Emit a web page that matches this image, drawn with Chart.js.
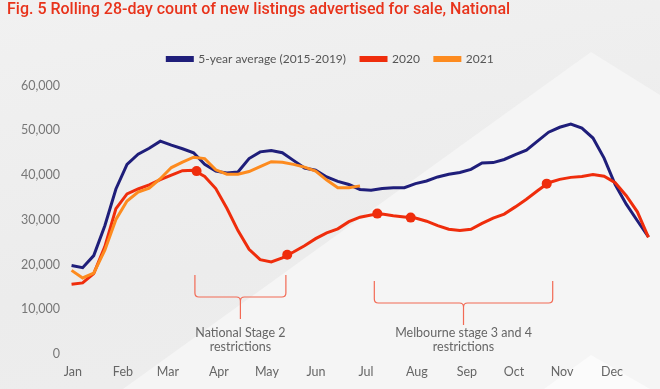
<!DOCTYPE html>
<html>
<head>
<meta charset="utf-8">
<script src="https://cdn.jsdelivr.net/npm/chart.js@4.4.1/dist/chart.umd.min.js"></script>
<style>
    html, body { margin: 0; padding: 0; }
    body {
        width: 660px;
        height: 389px;
        background: linear-gradient(170deg, #f1f1f1 0%, #ececec 60%, #eeeeee 100%);
        overflow: hidden;
    }
    #wrap { position: relative; width: 660px; height: 389px; }
    .bg { position: absolute; left: 0; top: 0; width: 660px; height: 389px; }
    #bg1 { background: #f5f5f5; clip-path: polygon(591px 52px, 660px 95px, 660px 389px, 123px 389px); }
    #bg2 { background: #fbfbfb; clip-path: polygon(591px 355px, 650px 389px, 544px 389px); }
    canvas { position: absolute; left: 0; top: 0; }
</style>
</head>
<body>
<div id="wrap">
    <div class="bg" id="bg1"></div>
    <div class="bg" id="bg2"></div>
    <canvas id="listingsChart" width="660" height="389"></canvas>
</div>
<script>
// Rolling 28-day new listings, one value per week (week 0 = early Jan)
const avg5yr = [
    19800, 19300, 22000, 28700, 36900, 42400, 44700, 46000, 47600, 46700,
    45900, 45000, 42400, 40900, 40500, 40700, 43700, 45200, 45500, 45000,
    43300, 41600, 41100, 39600, 38600, 37900, 36800, 36600, 37000, 37200,
    37200, 38100, 38700, 39600, 40200, 40600, 41300, 42700, 42800, 43500,
    44600, 45600, 47600, 49600, 50700, 51400, 50500, 48300, 43800, 37900,
    33500, 29800, 26200
];
const y2020 = [
    15600, 15900, 18000, 24000, 32500, 35800, 36900, 37800, 39000, 40000,
    41000, 41100, 39700, 37000, 32600, 27600, 23400, 21100, 20600, 21500,
    22800, 24200, 25800, 27100, 28000, 29600, 30600, 31100, 31300, 30900,
    30650, 30400, 29700, 28700, 27900, 27600, 27900, 29200, 30400, 31300,
    32900, 34600, 36500, 38300, 39050, 39500, 39700, 40150, 39750, 38300,
    35400, 31800, 26100
];
const y2021 = [
    18700, 17000, 18100, 23200, 30100, 34200, 36200, 37100, 39200, 41700,
    42900, 44000, 43700, 41200, 40200, 40200, 40800, 41900, 43000, 42900,
    42400, 41800, 40900, 38900, 37200, 37200, 37600
];

// highlighted 2020 points (week, value)
const markerWeeks = [11.27, 19.44, 27.56, 30.57, 42.83];
const markerValues = [40900, 22200, 31400, 30500, 38100];

// month tick positions in weeks
const monthLabels = ['Jan', 'Feb', 'Mar', 'Apr', 'May', 'Jun', 'Jul', 'Aug', 'Sep', 'Oct', 'Nov', 'Dec'];
const monthPos = [0.12, 4.63, 8.68, 13.28, 17.61, 22.03, 26.54, 31.13, 35.64, 39.88, 44.21, 48.72];

const yTicks = [0, 10000, 20000, 30000, 40000, 50000, 60000];

// restriction brackets (week span + caption)
const brackets = [
    { from: 11.12, to: 19.32, drop: 0, text: ['National Stage 2', 'restrictions'] },
    { from: 27.29, to: 43.37, drop: 6, text: ['Melbourne stage 3 and 4', 'restrictions'] }
];

const toPoints = arr => arr.map((v, i) => ({ x: i, y: v }));

const COL_BLUE = '#1f1e7a';
const COL_RED = '#ef2d0c';
const COL_ORANGE = '#fd8b1f';
const FONT = 'Lato, "Noto Sans", sans-serif';

const bracketPlugin = {
    id: 'brackets',
    afterDatasetsDraw(chart) {
        const { ctx, scales: { x }, chartArea } = chart;
        const base = chartArea.bottom;
        ctx.save();
        ctx.strokeStyle = '#f26a55';
        ctx.lineWidth = 1.2;
        brackets.forEach(b => {
            const x1 = x.getPixelForValue(b.from);
            const x2 = x.getPixelForValue(b.to);
            const cx = (x1 + x2) / 2;
            const top = base - 79 + b.drop;
            const mid = base - 57 + b.drop;
            const tip = base - 35 + b.drop;
            const r = 4;
            ctx.beginPath();
            ctx.moveTo(x1, top);
            ctx.lineTo(x1, mid - r);
            ctx.quadraticCurveTo(x1, mid, x1 + r, mid);
            ctx.lineTo(cx - r, mid);
            ctx.quadraticCurveTo(cx, mid, cx, mid + r);
            ctx.lineTo(cx, tip);
            ctx.moveTo(x2, top);
            ctx.lineTo(x2, mid - r);
            ctx.quadraticCurveTo(x2, mid, x2 - r, mid);
            ctx.lineTo(cx + r, mid);
            ctx.quadraticCurveTo(cx, mid, cx, mid + r);
            ctx.stroke();

            ctx.fillStyle = '#666666';
            ctx.font = '12.5px ' + FONT;
            ctx.textAlign = 'center';
            ctx.textBaseline = 'middle';
            ctx.fillText(b.text[0], cx, base - 21);
            ctx.fillText(b.text[1], cx, base - 7);
        });
        ctx.restore();
    }
};

const ctx = document.getElementById('listingsChart').getContext('2d');
new Chart(ctx, {
    type: 'line',
    data: {
        datasets: [
            {
                label: 'markers',
                data: markerWeeks.map((w, i) => ({ x: w, y: markerValues[i] })),
                showLine: false,
                pointRadius: 5,
                pointBackgroundColor: COL_RED,
                pointBorderWidth: 0,
                order: 0
            },
            {
                label: '5-year average (2015-2019)',
                data: toPoints(avg5yr),
                borderColor: COL_BLUE,
                backgroundColor: COL_BLUE,
                borderWidth: 3,
                pointRadius: 0,
                tension: 0,
                order: 3
            },
            {
                label: '2020',
                data: toPoints(y2020),
                borderColor: COL_RED,
                backgroundColor: COL_RED,
                borderWidth: 3,
                pointRadius: 0,
                tension: 0,
                order: 2
            },
            {
                label: '2021',
                data: toPoints(y2021),
                borderColor: COL_ORANGE,
                backgroundColor: COL_ORANGE,
                borderWidth: 3,
                pointRadius: 0,
                tension: 0,
                order: 1
            }
        ]
    },
    options: {
        responsive: false,
        animation: false,
        layout: { padding: { left: 7, right: 6, top: 0, bottom: 0 } },
        plugins: {
            title: {
                display: true,
                text: 'Fig. 5 Rolling 28-day count of new listings advertised for sale, National',
                align: 'start',
                color: '#e8331b',
                font: { family: 'Roboto, sans-serif', size: 16, weight: '500' },
                padding: { top: 0.5, bottom: 18.3 }
            },
            // empty spacer between legend and plot
            subtitle: {
                display: true,
                text: ' ',
                weight: 500,
                font: { size: 1 },
                padding: { top: 9.5, bottom: 0 }
            },
            legend: {
                display: true,
                labels: {
                    filter: item => item.text !== 'markers',
                    sort: (a, b) => a.datasetIndex - b.datasetIndex,
                    boxWidth: 25,
                    boxHeight: 3,
                    padding: 15,
                    color: '#555555',
                    font: { family: FONT, size: 12 }
                }
            },
            tooltip: { enabled: false }
        },
        scales: {
            x: {
                type: 'linear',
                min: -0.5,
                max: 52.5,
                grid: { display: false, drawTicks: false },
                border: { display: false },
                afterBuildTicks: scale => {
                    scale.ticks = monthPos.map(v => ({ value: v }));
                },
                afterFit: scale => { scale.height = 35; },
                ticks: {
                    autoSkip: false,
                    maxRotation: 0,
                    padding: 10,
                    color: '#666666',
                    font: { family: FONT, size: 12.5 },
                    callback: (value, index) => monthLabels[index]
                }
            },
            y: {
                min: 0,
                max: 60000,
                grid: { display: false, drawTicks: false },
                border: { display: false },
                afterBuildTicks: scale => {
                    scale.ticks = yTicks.map(v => ({ value: v }));
                },
                afterFit: scale => { scale.width = 59; },
                ticks: {
                    padding: 6,
                    color: '#777777',
                    font: { family: FONT, size: 12.5 },
                    callback: v => v.toLocaleString('en-US')
                }
            }
        }
    },
    plugins: [bracketPlugin]
});
</script>
</body>
</html>
